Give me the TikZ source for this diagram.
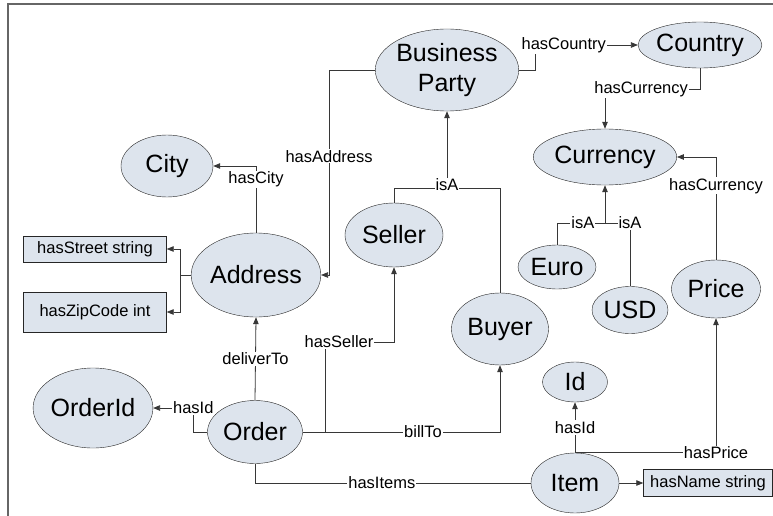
\documentclass[tikz,border=0pt]{standalone}
\usepackage{fontspec}
\setmainfont{Liberation Sans}
\usetikzlibrary{shapes.geometric,arrows.meta}
\definecolor{entfill}{RGB}{221,228,237}
\definecolor{linegray}{RGB}{55,55,55}

\begin{document}
\begin{tikzpicture}[x=1pt, y=-1pt,
    ent/.style={ellipse, draw=black!85, fill=entfill, inner sep=0pt, align=center, font=\fontsize{25}{30}\selectfont},
    attr/.style={rectangle, draw=black!85, fill=entfill, inner sep=0pt, font=\fontsize{16.5}{19}\selectfont},
    lbl/.style={fill=white, inner sep=1pt, font=\fontsize{16.5}{19}\selectfont},
    link/.style={draw=linegray, line width=0.8pt},
    arrow/.style={link, -{Triangle[length=7pt,width=5.5pt]}}
]
\clip (0,0) rectangle (773,516);
\draw[black!60, line width=1.2pt] (8,4) rectangle (800,540);

\node[ent, minimum width=137, minimum height=82] at (447,70) (bp) {Business\\Party};
\node[ent, minimum width=122, minimum height=46] at (700,45) (country) {Country};
\node[ent, minimum width=137, minimum height=56] at (605,157) (currency) {Currency};
\node[ent, minimum width=92, minimum height=62] at (167,166) (city) {City};
\node[ent, minimum width=122, minimum height=84] at (256,275) (address) {Address};
\node[ent, minimum width=98, minimum height=64] at (394,235) (seller) {Seller};
\node[ent, minimum width=97, minimum height=72] at (500,329) (buyer) {Buyer};
\node[ent, minimum width=78, minimum height=44] at (557,267) (euro) {Euro};
\node[ent, minimum width=76, minimum height=47] at (630,310) (usd) {USD};
\node[ent, minimum width=89, minimum height=58] at (716,289) (price) {Price};
\node[ent, minimum width=65, minimum height=40] at (575,382) (id) {Id};
\node[ent, minimum width=88, minimum height=60] at (575,483) (item) {Item};
\node[ent, minimum width=118, minimum height=80] at (93,408) (orderid) {OrderId};
\node[ent, minimum width=95, minimum height=63] at (255,432) (order) {Order};

\node[attr, minimum width=143, minimum height=26] at (95,249) (street) {hasStreet string};
\node[attr, minimum width=143, minimum height=40] at (95,312) (zip) {hasZipCode int};
\node[attr, minimum width=129, minimum height=27] at (708,483) (name) {hasName string};

\coordinate (curjoin) at (605,223);
\coordinate (isajoin) at (447,188);
\coordinate (addrjoin) at (180,275);
\coordinate (ordjoin) at (325,432);

\draw[arrow] (bp.west) -- ++(-46,0) |- node[lbl, pos=0.21] {hasAddress} (address.east);
\draw[arrow] (bp.east) -- ++(16,0) |- node[lbl, pos=0.64] {hasCountry} (country.west);
\draw[arrow] (country.south) -- ++(0,21) -| node[lbl, pos=0.31] {hasCurrency} (currency.north);
\draw[arrow] (price.north) |- node[lbl, pos=0.36] {hasCurrency} (currency.east);

\draw[link] (euro.north) |- node[lbl, pos=0.77] {isA} (curjoin);
\draw[link] (usd.north) |- node[lbl, pos=0.5] {isA} (curjoin);
\draw[arrow] (curjoin) -- (currency.south);

\draw[link] (seller.north) |- (isajoin);
\draw[link] (buyer.north) |- (isajoin);
\draw[arrow] (isajoin) -- node[lbl, pos=0, yshift=3pt] {isA} (bp.south);

\draw[arrow] (address.north) |- node[lbl, pos=0.4] {hasCity} (city.east);
\draw[link] (address.west) -- (addrjoin);
\draw[arrow] (addrjoin) |- (street.east);
\draw[arrow] (addrjoin) |- (zip.east);

\draw[arrow] (order.north) -- node[lbl] {deliverTo} (address.south);
\draw[arrow] (order.west) -- ++(-14,0) |- node[lbl, pos=0.5] {hasId} (orderid.east);
\draw[link] (order.east) -- (ordjoin);
\draw[arrow] (ordjoin) -- ++(0,-90) node[lbl, xshift=14pt] {hasSeller} -| (seller.south);
\draw[arrow] (ordjoin) -| node[lbl, pos=0.28] {billTo} (buyer.south);
\draw[link] (order.south) |- node[lbl, pos=0.73] {hasItems} (item.west);

\draw[arrow] (item.north) -- node[lbl] {hasId} (id.south);
\draw[arrow] (item.north) -| node[lbl, pos=0.5] {hasPrice} (price.south);
\draw[arrow] (item.east) -- (name.west);
\end{tikzpicture}
\end{document}
